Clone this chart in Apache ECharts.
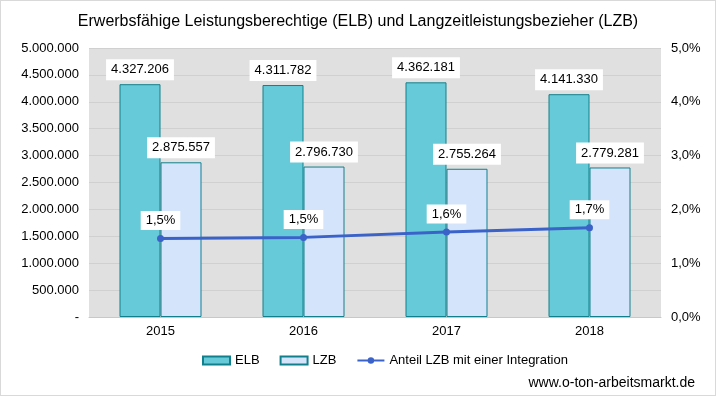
<!DOCTYPE html>
<html>
<head>
<meta charset="utf-8">
<script src="https://cdn.jsdelivr.net/npm/echarts@6/dist/echarts.min.js"></script>
<style>
html,body{margin:0;padding:0;background:#fff;}
#chart{width:714px;height:394px;border:1px solid #d9d9d9;}
</style>
</head>
<body>
<div id="chart"></div>
<script>
// Jahre und Werte
const years = ['2015', '2016', '2017', '2018'];
const elb = [4327206, 4311782, 4362181, 4141330];
const lzb = [2875557, 2796730, 2755264, 2779281];
const anteil = [1.46, 1.48, 1.58, 1.66];

const font = 'Liberation Sans, Arial, sans-serif';

function fmtDe(v){
	if (v === 0) return '-';
	return String(v).replace(/\B(?=(\d{3})+(?!\d))/g, '.');
}
function fmtPct(v, d){
	return v.toFixed(d).replace('.', ',') + '%';
}

const barLabel = {
	show: true,
	position: 'top',
	distance: 4,
	backgroundColor: '#fff',
	padding: [4, 5],
	color: '#000',
	fontSize: 13,
	fontFamily: font,
	formatter: p => fmtDe(p.value)
};

const option = {
	animation: false,
	title: {
		text: 'Erwerbsfähige Leistungsberechtige (ELB) und Langzeitleistungsbezieher (LZB)',
		left: 'center',
		top: 8,
		textStyle: {fontSize: 16, fontWeight: 'normal', color: '#000', fontFamily: font}
	},
	grid: {left: 88, right: 54, top: 47, bottom: 78, show: true, backgroundColor: '#e0e0e0', borderWidth: 0},
	legend: {
		bottom: 23,
		left: 196,
		itemGap: 20,
		itemWidth: 27,
		itemHeight: 8,
		textStyle: {fontSize: 13, color: '#000', fontFamily: font},
		data: [
			{name: 'ELB', icon: 'rect'},
			{name: 'LZB', icon: 'rect'},
			{name: 'Anteil LZB mit einer Integration'}
		]
	},
	graphic: [{
		type: 'text',
		right: 20,
		bottom: 5,
		style: {text: 'www.o-ton-arbeitsmarkt.de', fontSize: 14, fill: '#000', fontFamily: font}
	}],
	xAxis: {
		type: 'category',
		data: years,
		axisTick: {show: false},
		axisLine: {lineStyle: {color: '#c8c8c8'}},
		axisLabel: {color: '#000', fontSize: 13, fontFamily: font, margin: 8}
	},
	yAxis: [{
		type: 'value',
		min: 0,
		max: 5000000,
		interval: 500000,
		axisLine: {show: false},
		axisTick: {show: false},
		splitLine: {lineStyle: {color: '#d0d0d0'}},
		axisLabel: {color: '#000', fontSize: 13, fontFamily: font, margin: 10, formatter: fmtDe}
	}, {
		type: 'value',
		min: 0,
		max: 5,
		interval: 1,
		axisLine: {show: false},
		axisTick: {show: false},
		splitLine: {show: false},
		axisLabel: {color: '#000', fontSize: 13, fontFamily: font, margin: 10, formatter: v => fmtPct(v, 1)}
	}],
	series: [{
		name: 'ELB',
		type: 'bar',
		data: elb,
		barWidth: 41,
		barGap: '0%',
		itemStyle: {color: '#66cad8', borderColor: '#12808c', borderWidth: 1},
		label: barLabel
	}, {
		name: 'LZB',
		type: 'bar',
		data: lzb,
		barWidth: 41,
		itemStyle: {color: '#d3e4fb', borderColor: '#12808c', borderWidth: 1},
		label: barLabel
	}, {
		name: 'Anteil LZB mit einer Integration',
		type: 'line',
		yAxisIndex: 1,
		data: anteil,
		symbol: 'circle',
		symbolSize: 7,
		lineStyle: {color: '#3a62c9', width: 3},
		itemStyle: {color: '#3a62c9'},
		label: {
			show: true,
			position: 'top',
			distance: 5,
			backgroundColor: '#fff',
			padding: [3, 5],
			color: '#000',
			fontSize: 13,
			fontFamily: font,
			formatter: p => fmtPct(p.value, 1)
		}
	}]
};

const myChart = echarts.init(document.getElementById('chart'));
myChart.setOption(option);
window.addEventListener('resize', function() {
	myChart.resize();
});
</script>
</body>
</html>
